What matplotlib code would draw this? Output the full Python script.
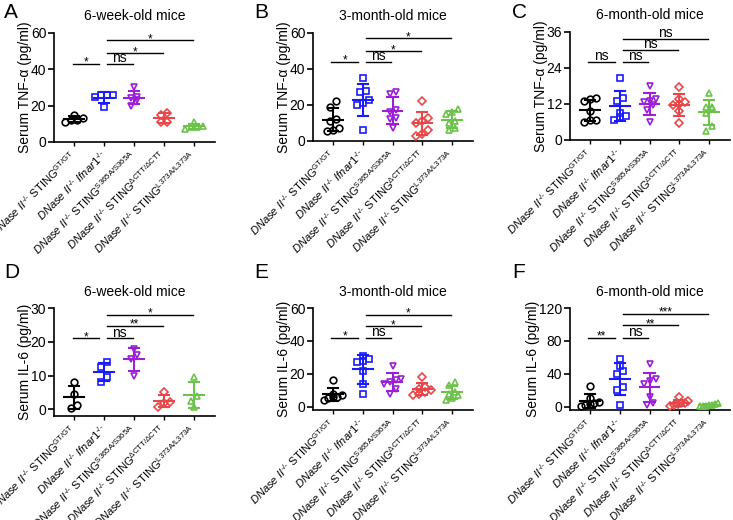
import numpy as np
import matplotlib
matplotlib.use("Agg")
import matplotlib.pyplot as plt

plt.rcParams['font.family'] = ['Liberation Sans', 'DejaVu Sans']
plt.rcParams['mathtext.fontset'] = 'custom'
plt.rcParams['mathtext.rm'] = 'Liberation Sans'
plt.rcParams['mathtext.it'] = 'Liberation Sans:italic'
plt.rcParams['mathtext.bf'] = 'Liberation Sans:bold'

# group labels (x axis)
group_labels = [
    r"$\mathit{DNase\ II}^{\text{-/-}}$ STING$^{\mathrm{GT/GT}}$",
    r"$\mathit{DNase\ II}^{\text{-/-}}\ \mathit{Ifnar1}^{\text{-/-}}$",
    r"$\mathit{DNase\ II}^{\text{-/-}}$ STING$^{\mathrm{S365A/S365A}}$",
    r"$\mathit{DNase\ II}^{\text{-/-}}$ STING$^{\Delta\mathrm{CTT}/\Delta\mathrm{CTT}}$",
    r"$\mathit{DNase\ II}^{\text{-/-}}$ STING$^{\mathrm{L373A/L373A}}$",
]
group_colors = ['black', '#1a1aff', '#9b1fd6', '#e8474a', '#6cc24a']
group_markers = ['o', 's', 'v', 'D', '^']

# serum TNF-a (pg/ml)
tnf_6w = [[11, 12, 12, 13, 15], [26, 25, 26, 26, 19], [30, 24, 23, 20, 25],
          [16, 15, 11, 11], [11, 9, 8, 8, 7]]
tnf_3m = [[22, 19, 12, 11, 7, 6, 5.5], [35, 28, 27, 23, 21, 20, 6],
          [27, 26, 17, 16, 13, 12, 7], [22, 13, 11, 10, 6, 4, 3],
          [18, 16, 15, 11, 10, 7, 6]]
tnf_6m = [[14, 13.5, 13, 9.5, 6.5, 6, 6.5], [20.5, 14, 13, 9, 8, 7.5, 6.5],
          [18, 13.5, 13, 12.5, 11.5, 10, 6], [17.5, 13.5, 12.5, 12, 11.5, 9.5, 5.5],
          [15.5, 11, 11, 10.5, 9, 4.5, 3]]
# serum IL-6 (pg/ml)
il6_6w = [[8, 4.5, 1.2, 0.3], [14, 12.5, 9.5, 8], [18, 16, 15, 10],
          [5, 2.2, 1.8, 0.7], [9.5, 4, 2.5, 0.7]]
il6_3m = [[16, 8, 7, 6, 6, 5, 4], [31, 29, 28, 27, 22, 14, 8],
          [25, 17, 16, 15, 14, 11, 8], [18, 12, 11, 10, 9, 8, 7],
          [15, 13, 9, 8, 7, 5, 4]]
il6_6m = [[25, 10, 6, 4, 3, 2, 1], [58, 50, 44, 40, 24, 20, 2],
          [52, 34, 31, 28, 12, 5, 2], [12, 7, 5, 4, 3, 2, 1],
          [4, 3, 2, 2, 1, 1, 0.5]]

# significance: (group i, group j, height, label)
sig_tnf_6w = [(0, 1, 43, '*'), (1, 2, 43, 'ns'), (1, 3, 49, '*'), (1, 4, 56, '*')]
sig_tnf_3m = [(0, 1, 44, '*'), (1, 2, 44, 'ns'), (1, 3, 50, '*'), (1, 4, 57, '*')]
sig_tnf_6m = [(0, 1, 26, 'ns'), (1, 2, 26, 'ns'), (1, 3, 30, 'ns'), (1, 4, 33.7, 'ns')]
sig_il6_6w = [(0, 1, 21, '*'), (1, 2, 21, 'ns'), (1, 3, 24.7, '**'), (1, 4, 28, '*')]
sig_il6_3m = [(0, 1, 42, '*'), (1, 2, 42, 'ns'), (1, 3, 49, '*'), (1, 4, 56, '*')]
sig_il6_6m = [(0, 1, 84, '**'), (1, 2, 84, 'ns'), (1, 3, 99, '**'), (1, 4, 113, '***')]

panels = [
    ('A', '6-week-old mice', 'Serum TNF-α (pg/ml)', tnf_6w, sig_tnf_6w, (0, 60), [0, 20, 40, 60]),
    ('B', '3-month-old mice', 'Serum TNF-α (pg/ml)', tnf_3m, sig_tnf_3m, (0, 60), [0, 20, 40, 60]),
    ('C', '6-month-old mice', 'Serum TNF-α (pg/ml)', tnf_6m, sig_tnf_6m, (0, 36), [0, 12, 24, 36]),
    ('D', '6-week-old mice', 'Serum IL-6 (pg/ml)', il6_6w, sig_il6_6w, (-2, 30), [0, 10, 20, 30]),
    ('E', '3-month-old mice', 'Serum IL-6 (pg/ml)', il6_3m, sig_il6_3m, (-2, 60), [0, 20, 40, 60]),
    ('F', '6-month-old mice', 'Serum IL-6 (pg/ml)', il6_6m, sig_il6_6m, (-4, 120), [0, 40, 80, 120]),
]


def swarm_offsets(vals, tol, step):
    vals = np.asarray(vals, dtype=float)
    order = np.argsort(vals)
    offsets = np.zeros(len(vals))
    clusters = [[order[0]]]
    for k in order[1:]:
        if vals[k] - vals[clusters[-1][0]] < tol:
            clusters[-1].append(k)
        else:
            clusters.append([k])
    for c in clusters:
        n = len(c)
        st = step if n < 4 else 0.6 / (n - 1)
        for m, k in enumerate(c):
            offsets[k] = (m - (n - 1) / 2) * st
    return offsets


W, H = 733, 520
fig = plt.figure(figsize=(W / 100, H / 100), dpi=100)

# axes boxes in pixels: left, right, top, bottom
boxes = [(54, 215, 33, 142), (313, 473, 33, 141), (570, 730, 32, 140),
         (54, 215, 308, 416), (313, 473, 308, 410), (570, 730, 308, 410)]
letter_pos = [(4, 3), (254, 3), (512, 3), (4, 263), (254, 263), (512, 263)]

for (letter, title, ylabel, data, sig, ylim, yticks), box, lp in zip(panels, boxes, letter_pos):
    l, r, t, b = box
    ax = fig.add_axes([l / W, 1 - b / H, (r - l) / W, (b - t) / H])
    x = np.arange(len(data))
    ppu = (b - t) / (ylim[1] - ylim[0])
    for i, vals in enumerate(data):
        vals = np.asarray(vals, dtype=float)
        c = group_colors[i]
        off = swarm_offsets(vals, 6.0 / ppu, 0.2)
        ax.plot(x[i] + off, vals, linestyle='none', marker=group_markers[i],
                markersize=4.8 if group_markers[i] != 'D' else 4.2,
                markerfacecolor='none', markeredgecolor=c, markeredgewidth=1.2,
                zorder=3)
        m = vals.mean()
        sd = vals.std(ddof=1)
        ax.plot([x[i] - 0.33, x[i] + 0.33], [m, m], color=c, lw=1.5, zorder=4)
        ax.plot([x[i], x[i]], [m - sd, m + sd], color=c, lw=1.5, zorder=4)
        for yy in (m - sd, m + sd):
            ax.plot([x[i] - 0.17, x[i] + 0.17], [yy, yy], color=c, lw=1.5, zorder=4)
    for i, j, h, txt in sig:
        x0 = x[i] - 0.05 if i == 0 else x[i] + 0.1
        x1 = x[j] - 0.17 if i == 0 else x[j] - 0.05
        ax.plot([x0, x1], [h, h], color='black', lw=1.0, clip_on=False)
        if txt == 'ns':
            ax.text((x0 + x1) / 2, h + 1.5 / ppu, txt,
                    ha='center', va='baseline', fontsize=10)
        else:
            ax.text((x0 + x1) / 2, h - 2 / ppu, txt,
                    ha='center', va='baseline', fontsize=8.5)
    ax.set_xlim(-0.67, 4.7)
    ax.set_ylim(*ylim)
    ax.set_yticks(yticks)
    ax.set_xticks(x)
    ax.set_xticklabels(group_labels, rotation=45, ha='right', va='center',
                       rotation_mode='anchor', fontsize=8.0)
    ax.tick_params(axis='x', length=3, width=1.0, pad=5)
    ax.tick_params(axis='y', length=4, width=1.2, labelsize=10, pad=1.5)
    for s in ('top', 'right'):
        ax.spines[s].set_visible(False)
    for s in ('left', 'bottom'):
        ax.spines[s].set_linewidth(1.2)
    ax.set_ylabel(ylabel, fontsize=10, labelpad=-1)
    ax.set_title(title, fontsize=10, pad=9)
    fig.text(lp[0] / W, 1 - lp[1] / H, letter, fontsize=15, ha='left', va='top')

fig.savefig('out.png', dpi=100)
